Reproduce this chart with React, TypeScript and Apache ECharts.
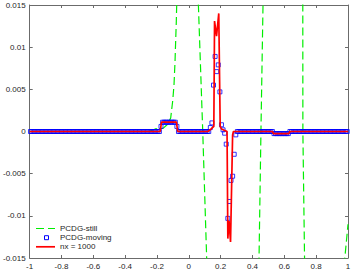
import React, { useEffect, useRef } from "react";
import * as echarts from "echarts";

// x-range and y-range of the axes
const xMin = -1;
const xMax = 1;
const xStep = 0.2;
const yMin = -0.015;
const yMax = 0.015;
const yStep = 0.005;

const legendNames = ["PCDG-still", "PCDG-moving", "nx = 1000"];

// PCDG-moving: one value per mesh cell (cell width 0.01 on [-1, 1])
const cellWidth = 0.01;
const movingY = [
  0, 0, 0, 0, 0, 0, 0, 0, 0, 0, 0, 0, 0, 0, 0, 0, 0, 0, 0, 0,
  0, 0, 0, 0, 0, 0, 0, 0, 0, 0, 0, 0, 0, 0, 0, 0, 0, 0, 0, 0,
  0, 0, 0, 0, 0, 0, 0, 0, 0, 0, 0, 0, 0, 0, 0, 0, 0, 0, 0, 0,
  0, 0, 0, 0, 0, 0, 0, 0, 0, 0, 0, 0, 0, 0, 0, 0, 0, 0, 0, 0,
  0, 0, 0.0006, 0.0011, 0.0011, 0.0011, 0.0011, 0.0011, 0.0011, 0.0011, 0.0011, 0.0011, 0.0006, 0, 0, 0, 0, 0, 0, 0,
  0, 0, 0, 0, 0, 0, 0, 0, 0, 0, 0, 0, 0, 0.00047, 0.00102, 0.0055, 0.0089, 0.0071, 0.0079, 0.0047,
  0.0008, 0.0002, -0.0002, -0.0015, -0.0103, -0.0083, -0.0058, -0.0053, -0.0027, -0.0004, 0, 0, 0, 0, 0, 0, 0, 0, 0, 0,
  0, 0, 0, 0, 0, 0, 0, 0, 0, 0, 0, 0, 0, -0.00025, -0.00025, -0.00025, -0.00025, -0.00025, -0.00025, -0.00025,
  -0.00025, -0.00025, -0.00025, 0, 0, 0, 0, 0, 0, 0, 0, 0, 0, 0, 0, 0, 0, 0, 0, 0,
  0, 0, 0, 0, 0, 0, 0, 0, 0, 0, 0, 0, 0, 0, 0, 0, 0, 0, 0, 0,
];

// PCDG-still (oscillates far outside the visible range)
const stillX = [
  -1, -0.25, -0.211, -0.16, -0.137, -0.114, -0.101, -0.093, -0.087, -0.083, -0.079, -0.0764, -0.074,
  0, 0.056, 0.06, 0.087, 0.112, 0.116, 0.28, 0.439, 0.441, 0.453, 0.466, 0.468, 0.59, 0.715, 0.716,
  0.7165, 0.727, 0.728, 0.85, 0.978, 0.98, 1,
];
const stillY = [
  0, 0, 0.0003, 0.0004, 0.0008, 0.0016, 0.0037, 0.0056, 0.0082, 0.0106, 0.0129, 0.0149, 0.017,
  0.08, 0.017, 0.015, 0.0002, -0.015, -0.017, -0.08, -0.017, -0.015, 0, 0.015, 0.017, 0.08, 0.017, 0.015,
  0, -0.015, -0.017, -0.08, -0.017, -0.015, -0.011,
];

// nx = 1000 reference solution
const refX = [
  -1, -0.18, -0.172, -0.078, -0.07, 0.12, 0.14, 0.157, 0.1615, 0.174, 0.188, 0.197, 0.205, 0.24,
  0.245, 0.2525, 0.262, 0.275, 0.28, 0.525, 0.532, 0.628, 0.635, 1,
];
const refY = [
  0, 0, 0.0011, 0.0011, 0, 0, 0.0003, 0.0006, 0.0131, 0.0113, 0.014, 0.0006, 0.0003, 0,
  -0.0127, -0.0106, -0.0131, -0.0004, 0, 0, -0.00025, -0.00025, 0, 0,
];

const axisColor = "#6b6b6b";
const textColor = "#262626";
const font = "Liberation Sans, Arial, sans-serif";

function xAxis(position: "bottom" | "top", labels: boolean) {
  return {
    type: "value",
    position,
    min: xMin,
    max: xMax,
    interval: xStep,
    axisLine: { show: true, onZero: false, lineStyle: { color: axisColor, width: 1 } },
    axisTick: { show: true, inside: true, length: 3, lineStyle: { color: axisColor } },
    axisLabel: { show: labels, fontSize: 8, color: textColor, margin: 4, fontFamily: font },
    splitLine: { show: false },
  };
}

function yAxis(position: "left" | "right", labels: boolean) {
  return {
    type: "value",
    position,
    min: yMin,
    max: yMax,
    interval: yStep,
    axisLine: { show: true, onZero: false, lineStyle: { color: axisColor, width: 1 } },
    axisTick: { show: true, inside: true, length: 3, lineStyle: { color: axisColor } },
    axisLabel: { show: labels, fontSize: 8, color: textColor, margin: 4, fontFamily: font },
    splitLine: { show: false },
  };
}

export default function App() {
  const ref = useRef<HTMLDivElement>(null);

  useEffect(() => {
    if (!ref.current) return;
    const chart = echarts.init(ref.current, null, { renderer: "svg" });

    const movingData = movingY.map((y, i) => [xMin + cellWidth * (i + 0.5), y]);
    const stillData = stillX.map((x, i) => [x, stillY[i]]);
    const refData = refX.map((x, i) => [x, refY[i]]);

    const legendLeft = 36;
    const legendRows = [228.5, 237.7, 246.8];

    chart.setOption({
      animation: false,
      backgroundColor: "#ffffff",
      grid: { left: 26, right: 6, top: 5, bottom: 13, containLabel: false },
      xAxis: [xAxis("bottom", true), xAxis("top", false)],
      yAxis: [yAxis("left", true), yAxis("right", false)],
      series: [
        {
          name: legendNames[0],
          type: "line",
          xAxisIndex: 0,
          yAxisIndex: 0,
          data: stillData,
          showSymbol: false,
          symbol: "none",
          clip: true,
          lineStyle: { color: "#00ee00", width: 1.2, type: [8, 4] },
          z: 2,
        },
        {
          name: legendNames[1],
          type: "scatter",
          xAxisIndex: 0,
          yAxisIndex: 0,
          data: movingData,
          symbol: "rect",
          symbolSize: 4,
          itemStyle: { color: "none", borderColor: "#0000ff", borderWidth: 1 },
          z: 3,
        },
        {
          name: legendNames[2],
          type: "line",
          xAxisIndex: 0,
          yAxisIndex: 0,
          data: refData,
          showSymbol: false,
          symbol: "none",
          clip: true,
          lineStyle: { color: "#ff0000", width: 1.7 },
          z: 4,
        },
      ],
      graphic: [
        {
          type: "line",
          shape: { x1: legendLeft, y1: legendRows[0], x2: legendLeft + 19, y2: legendRows[0] },
          style: { stroke: "#00ee00", lineWidth: 1.2, lineDash: [8, 4] },
        },
        {
          type: "text",
          x: legendLeft + 24,
          y: legendRows[0],
          style: { text: legendNames[0], fontSize: 8, fill: textColor, fontFamily: font, verticalAlign: "middle", align: "left" },
        },
        {
          type: "rect",
          shape: { x: legendLeft + 8.5, y: legendRows[1] - 2, width: 4, height: 4 },
          style: { fill: "none", stroke: "#0000ff", lineWidth: 1 },
        },
        {
          type: "text",
          x: legendLeft + 24,
          y: legendRows[1],
          style: { text: legendNames[1], fontSize: 8, fill: textColor, fontFamily: font, verticalAlign: "middle", align: "left" },
        },
        {
          type: "line",
          shape: { x1: legendLeft, y1: legendRows[2], x2: legendLeft + 19, y2: legendRows[2] },
          style: { stroke: "#ff0000", lineWidth: 1.7 },
        },
        {
          type: "text",
          x: legendLeft + 24,
          y: legendRows[2],
          style: { text: legendNames[2], fontSize: 8, fill: textColor, fontFamily: font, verticalAlign: "middle", align: "left" },
        },
      ],
    });

    return () => chart.dispose();
  }, []);

  return (
    <div
      ref={ref}
      style={{ position: "absolute", left: 0, top: 0, width: 354, height: 271, background: "#ffffff" }}
    />
  );
}
